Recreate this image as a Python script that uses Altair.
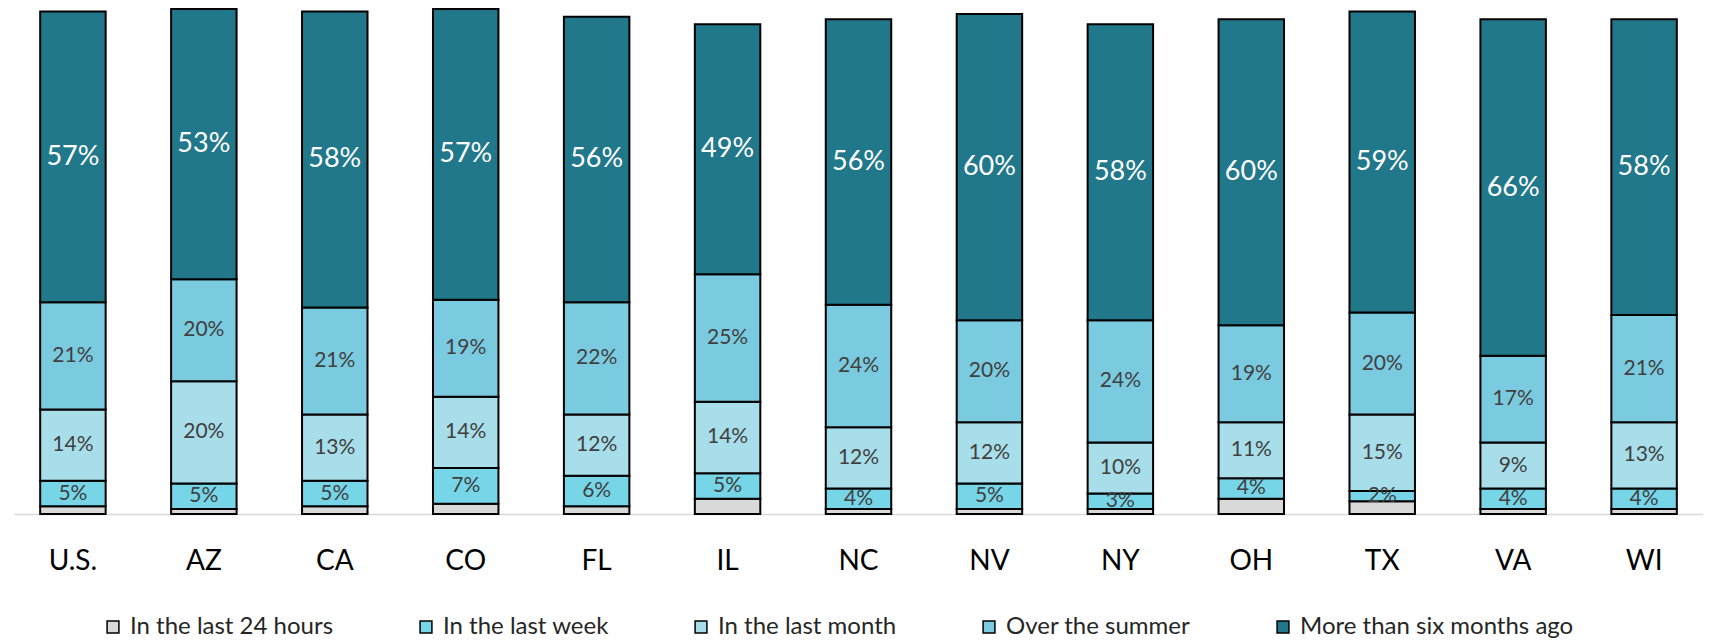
import altair as alt
import pandas as pd

states = ["U.S.", "AZ", "CA", "CO", "FL", "IL", "NC", "NV", "NY", "OH", "TX", "VA", "WI"]
series = ["In the last 24 hours", "In the last week", "In the last month",
          "Over the summer", "More than six months ago"]
h24 = [1.5, 1, 1.5, 2, 1.5, 3, 1, 1, 1, 3, 2.5, 1, 1]
week = [5, 5, 5, 7, 6, 5, 4, 5, 3, 4, 2, 4, 4]
month = [14, 20, 13, 14, 12, 14, 12, 12, 10, 11, 15, 9, 13]
summer = [21, 20, 21, 19, 22, 25, 24, 20, 24, 19, 20, 17, 21]
six = [57, 53, 58, 57, 56, 49, 56, 60, 58, 60, 59, 66, 58]
colors = ["#D9D9D9", "#77D5E8", "#A8DEEA", "#7BCBE0", "#22788B"]

rows = []
for i, s in enumerate(states):
    for k, vals in enumerate([h24, week, month, summer, six]):
        rows.append({"state": s, "series": series[k], "idx": k, "value": vals[i]})
df = pd.DataFrame(rows)

base = alt.Chart(df).transform_stack(
    stack="value", groupby=["state"], as_=["y0", "y1"], sort=[alt.SortField("idx")]
).transform_calculate(
    mid="(datum.y0 + datum.y1) / 2",
    label="format(datum.value, '.0f') + '%'"
)

x = alt.X("state:N", sort=states, title=None,
          scale=alt.Scale(paddingInner=0.5, paddingOuter=0.2),
          axis=alt.Axis(labelAngle=0, ticks=False, domainColor="#D9D9D9", domainWidth=1.5,
                        labelFont="Lato", labelFontSize=28, labelColor="#000000",
                        labelPadding=33))
yscale = alt.Scale(domain=[0, 99], nice=False)

bars = base.mark_bar(stroke="#000000", strokeWidth=2).encode(
    x=x,
    y=alt.Y("y0:Q", scale=yscale, axis=None),
    y2="y1:Q",
    color=alt.Color("series:N", sort=series,
                    scale=alt.Scale(domain=series, range=colors),
                    legend=alt.Legend(title=None, orient="none", direction="horizontal",
                                      legendX=87, legendY=606, columnPadding=80,
                                      symbolType="square", symbolSize=140,
                                      symbolStrokeColor="#000000", symbolStrokeWidth=1.5,
                                      labelFont="Lato", labelFontSize=24,
                                      labelColor="#262626", labelOffset=5,
                                      labelLimit=400)),
)

mid_text = base.transform_filter("datum.idx >= 1 && datum.idx <= 3").mark_text(
    font="Lato", fontSize=21, color="#404040", baseline="middle"
).encode(x=alt.X("state:N", sort=states), y=alt.Y("mid:Q", scale=yscale), text="label:N")

top_text = base.transform_filter("datum.idx == 4").mark_text(
    font="Lato", fontSize=27, color="#FFFFFF", baseline="middle"
).encode(x=alt.X("state:N", sort=states), y=alt.Y("mid:Q", scale=yscale), text="label:N")

chart = alt.layer(bars, mid_text, top_text).properties(
    width=1689, height=505,
    padding={"left": 6, "top": 0, "right": 0, "bottom": 0}
).configure_view(stroke=None)

chart.save("out.html", embed_options={"renderer": "svg", "actions": False})
